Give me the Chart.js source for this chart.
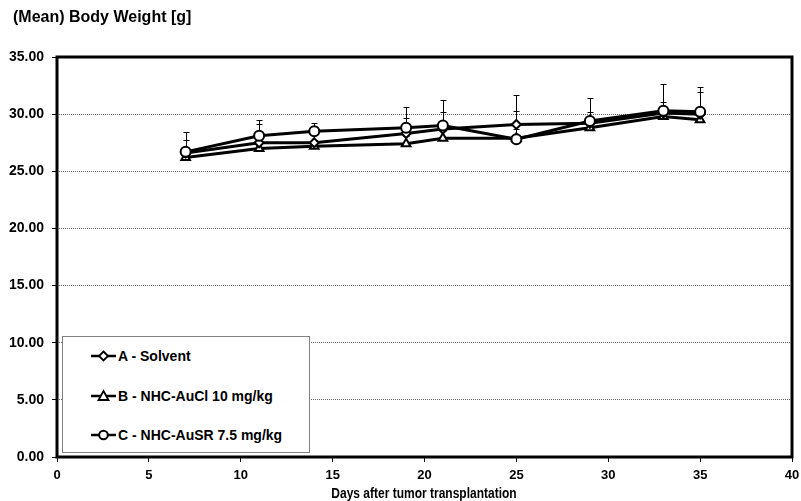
<!DOCTYPE html>
<html>
<head>
<meta charset="utf-8">
<script src="https://cdn.jsdelivr.net/npm/chart.js@4/dist/chart.umd.min.js"></script>
<style>
  body { margin: 0; background: #fff; }
  #wrap { position: relative; width: 801px; height: 501px; }
  #myChart { display: block; }
  #title { position: absolute; left: 13px; top: 8px; font: bold 16px "Liberation Sans", Arial, sans-serif; color: #000; }
  #xTitle { position: absolute; left: 224px; width: 400px; top: 484px; text-align: center; font: bold 15px "Liberation Sans", Arial, sans-serif; color: #000; transform: scaleX(0.8); }
  #legend { position: absolute; left: 62px; top: 336px; width: 248px; height: 117px; border: 1px solid #808080; background: #fff; box-sizing: border-box; }
  .row { position: absolute; left: 28px; height: 16px; display: flex; align-items: center; font: bold 14px "Liberation Sans", Arial, sans-serif; color: #000; }
  .row svg { margin-right: 2px; }
</style>
</head>
<body>
<div id="wrap">
  <canvas id="myChart" width="801" height="501"></canvas>
  <div id="title">(Mean) Body Weight [g]</div>
  <div id="xTitle">Days after tumor transplantation</div>
  <div id="legend">
    <div class="row" style="top:11px">
      <svg width="25" height="14"><line x1="0" y1="7" x2="25" y2="7" stroke="#000" stroke-width="2.5"/><polygon points="12.5,2.5 17,7 12.5,11.5 8,7" fill="#fff" stroke="#000" stroke-width="1.8"/></svg>A - Solvent
    </div>
    <div class="row" style="top:51px">
      <svg width="25" height="14"><line x1="0" y1="7" x2="25" y2="7" stroke="#000" stroke-width="2.5"/><polygon points="12.5,2 17.5,11 7.5,11" fill="#fff" stroke="#000" stroke-width="1.8"/></svg>B - NHC-AuCl 10 mg/kg
    </div>
    <div class="row" style="top:90px">
      <svg width="25" height="14"><line x1="0" y1="7" x2="25" y2="7" stroke="#000" stroke-width="2.5"/><circle cx="12.5" cy="7" r="4.3" fill="#fff" stroke="#000" stroke-width="2"/></svg>C - NHC-AuSR 7.5 mg/kg
    </div>
  </div>
</div>
<script>
const ctx = document.getElementById("myChart").getContext("2d");

const days = [7, 11, 14, 19, 21, 25, 29, 33, 35];
const solvent = [26.6, 27.5, 27.5, 28.3, 28.7, 29.1, 29.2, 30.1, 30.0];
const auCl = [26.2, 27.0, 27.2, 27.4, 27.9, 27.9, 28.8, 29.8, 29.5];
const auSR = [26.7, 28.1, 28.5, 28.8, 29.0, 27.8, 29.4, 30.3, 30.2];
const solventErr = [1.8, 2.0, 1.7, 2.3, 2.5, 2.6, 2.2, 2.5, 2.4];
const auClErr = [0.6, 0.5, 0.5, 0.7, 0.6, 0.8, 0.6, 0.6, 0.7];
const auSRErr = [1.0, 1.0, 0.5, 0.9, 1.2, 2.5, 0.8, 0.8, 1.7];
const yTicks = [0, 5, 10, 15, 20, 25, 30, 35];

const arial = '"Liberation Sans", Arial, sans-serif';

function points(vals) {
  return days.map((d, i) => ({ x: d, y: vals[i] }));
}

function series(label, vals, errs, style, radius, order) {
  return {
    label: label,
    data: points(vals),
    errors: errs,
    borderColor: "#000",
    backgroundColor: "#fff",
    borderWidth: 3,
    pointStyle: style,
    pointRadius: radius,
    pointBorderWidth: 2,
    pointBackgroundColor: "#fff",
    pointBorderColor: "#000",
    tension: 0,
    order: order,
  };
}

// error bars drawn with the chart's own scales, under the markers
const errorBars = {
  id: "errorBars",
  beforeDatasetsDraw(chart) {
    const c = chart.ctx;
    const y = chart.scales.y;
    c.save();
    c.strokeStyle = "#000";
    c.lineWidth = 1;
    chart.data.datasets.forEach((ds, i) => {
      const meta = chart.getDatasetMeta(i);
      meta.data.forEach((pt, j) => {
        const top = Math.round(y.getPixelForValue(ds.data[j].y + ds.errors[j])) + 0.5;
        const x = Math.round(pt.x) + 0.5;
        c.beginPath();
        c.moveTo(x, pt.y);
        c.lineTo(x, top);
        c.moveTo(x - 3, top);
        c.lineTo(x + 3, top);
        c.stroke();
      });
    });
    c.restore();
  },
};

const frame = {
  id: "frame",
  afterDraw(chart) {
    const a = chart.chartArea;
    const c = chart.ctx;
    c.save();
    c.strokeStyle = "#000";
    c.lineWidth = 3;
    c.strokeRect(a.left, a.top, a.right - a.left, a.bottom - a.top);
    c.restore();
  },
};

let myChart = new Chart(ctx, {
  type: "line",
  data: {
    datasets: [
      series("A - Solvent", solvent, solventErr, "rectRot", 4.5, 1),
      series("B - NHC-AuCl 10 mg/kg", auCl, auClErr, "triangle", 5, 2),
      series("C - NHC-AuSR 7.5 mg/kg", auSR, auSRErr, "circle", 5, 0),
    ],
  },
  options: {
    responsive: false,
    animation: false,
    layout: { padding: { top: 57, right: 9, left: 0, bottom: 0 } },
    plugins: {
      legend: { display: false },
      title: { display: false },
      tooltip: { enabled: false },
    },
    scales: {
      x: {
        type: "linear",
        min: 0,
        max: 40,
        ticks: { stepSize: 5, color: "#000", padding: 6, maxRotation: 0, font: { family: arial, size: 13, weight: "bold" } },
        grid: { drawOnChartArea: false, tickLength: 5, tickColor: "#000", color: "#000" },
        border: { display: false },
        afterFit(s) {
          s.height = 44;
          s.paddingLeft = 0;
          s.paddingRight = 0;
        },
      },
      y: {
        min: 0,
        max: 35,
        afterBuildTicks(s) { s.ticks = yTicks.map((v) => ({ value: v })); },
        ticks: {
          color: "#000",
          padding: 8,
          font: { family: arial, size: 14, weight: "bold" },
          callback: (v) => Number(v).toFixed(2),
        },
        grid: { color: "#666", lineWidth: 1, tickLength: 5, tickColor: "#000", tickBorderDash: [] },
        border: { display: false, dash: [1, 1] },
        afterFit(s) { s.width = 57; },
      },
    },
  },
  plugins: [errorBars, frame],
});
</script>
</body>
</html>
